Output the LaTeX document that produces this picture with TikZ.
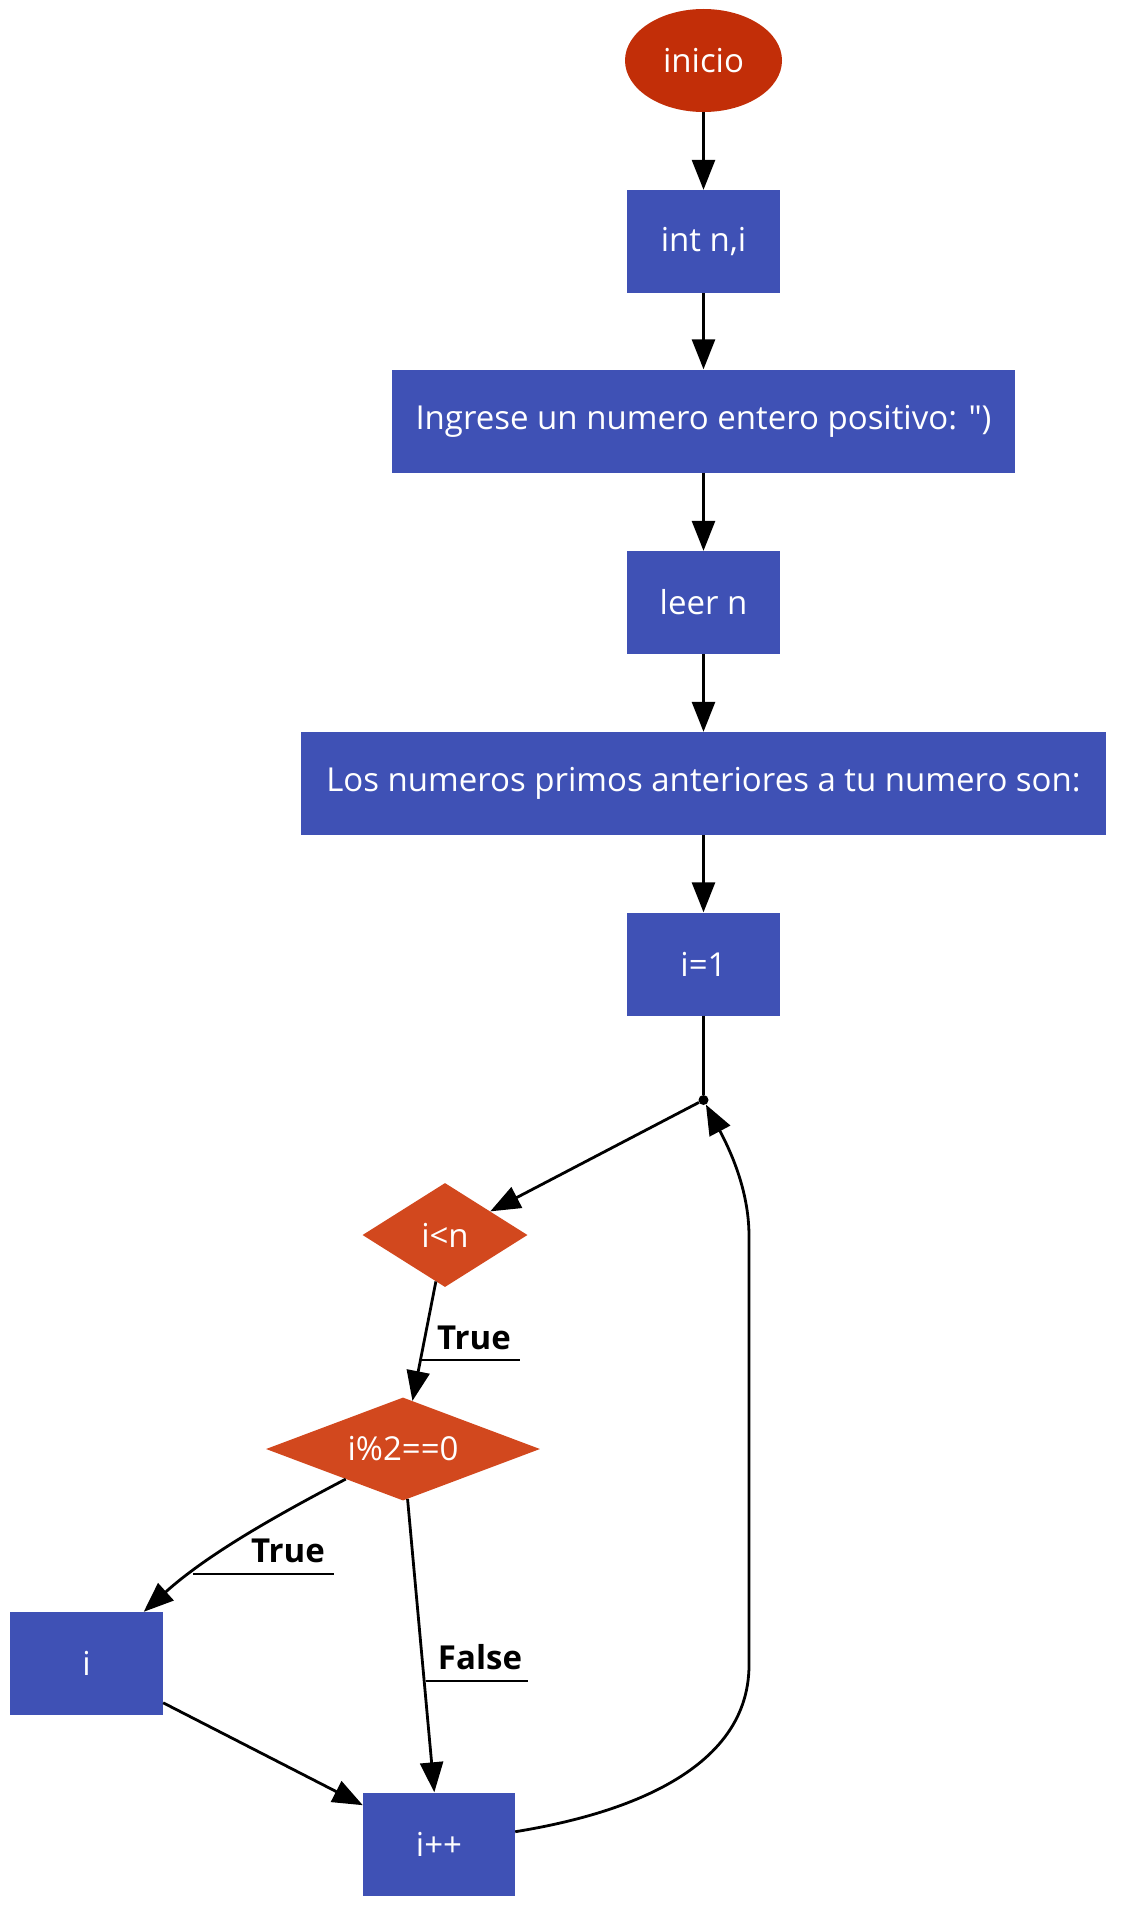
\documentclass[tikz,border=0pt]{standalone}
\usepackage{fontspec}
\setmainfont{Open Sans}[Ligatures=TeXOff]
\usetikzlibrary{shapes.geometric,arrows.meta}
\definecolor{boxblue}{RGB}{63,81,181}
\definecolor{startred}{RGB}{194,46,8}
\definecolor{decorange}{RGB}{210,72,30}
\begin{document}
\begin{tikzpicture}[x=1pt,y=-1pt,
  font=\fontsize{33}{39}\selectfont,
  proc/.style={rectangle,fill=boxblue,text=white,minimum width=153pt,minimum height=103pt,inner sep=0pt},
  dec/.style={diamond,fill=decorange,text=white,inner sep=0pt},
  arr/.style={line width=2.8pt,-{Triangle[length=30pt,width=23pt]}},
  ln/.style={line width=2.8pt},
  lbl/.style={font=\fontsize{33}{39}\selectfont\bfseries,text=black,inner sep=0pt}]
\useasboundingbox (0,0) rectangle (1131,1919);

\node[ellipse,fill=startred,text=white,minimum width=157pt,minimum height=103pt,inner sep=0pt] (start) at (703.5,60.5) {inicio};
\node[proc] (decl) at (703.5,241.5) {int n,i};
\node[proc,minimum width=623pt] (ask) at (703.5,421) {Ingrese un numero entero positivo: ")};
\node[proc] (read) at (703.5,602.5) {leer n};
\node[proc,minimum width=805pt] (msg) at (703.5,783.5) {Los numeros primos anteriores a tu numero son:};
\node[proc] (init) at (703.5,964) {i=1};
\node[circle,fill=black,minimum size=10pt,inner sep=0pt] (join) at (703.5,1100) {};
\node[dec,aspect=1.6,minimum width=165pt,minimum height=104pt] (cond) at (445,1235) {i<n};
\node[dec,aspect=2.66,minimum width=274pt,minimum height=103pt] (even) at (403,1449) {i\%2==0};
\node[proc] (printi) at (86.5,1663.5) {i};
\node[proc,minimum width=152pt] (incr) at (439,1844) {i++};

\draw[arr] (start) -- (decl);
\draw[arr] (decl) -- (ask);
\draw[arr] (ask) -- (read);
\draw[arr] (read) -- (msg);
\draw[arr] (msg) -- (init);
\draw[ln] (init) -- (join);
\draw[arr] (join) -- (cond);
\draw[arr] (cond) -- (even);
\draw[arr] (even) .. controls (285,1511) and (210,1552) .. (printi);
\draw[arr] (even) -- (incr);
\draw[arr] (printi) -- (incr);
\draw[arr] (incr) .. controls (600,1818) and (749,1780) .. (749,1665) -- (749,1236) .. controls (749,1190) and (730,1150) .. (join);

% labels with underline
\node[lbl] (t1) at (474,1337.5) {True};
\coordinate (t1a) at (421,1360);
\coordinate (t1b) at (520,1360);
\draw[ln,line width=2.2pt] (t1a) -- (t1b);
\node[lbl] (t2) at (288,1550.5) {True};
\coordinate (t2a) at (193,1574);
\coordinate (t2b) at (334,1574);
\draw[ln,line width=2.2pt] (t2a) -- (t2b);
\node[lbl] (f1) at (480,1657.5) {False};
\coordinate (f1a) at (426,1681);
\coordinate (f1b) at (528,1681);
\draw[ln,line width=2.2pt] (f1a) -- (f1b);
\end{tikzpicture}
\end{document}
